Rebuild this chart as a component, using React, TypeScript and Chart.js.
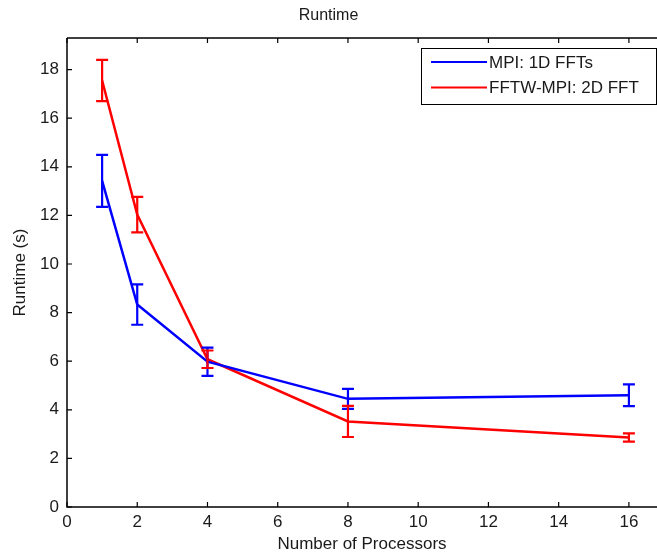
import React, { useEffect, useRef } from 'react';
import { Chart, registerables } from 'chart.js';

Chart.register(...registerables);

const processors = [1, 2, 4, 8, 16];
const mpiRuntime = [13.42, 8.33, 5.98, 4.45, 4.6];
const mpiError = [1.07, 0.83, 0.58, 0.41, 0.45];
const fftwRuntime = [17.55, 12.03, 6.08, 3.52, 2.86];
const fftwError = [0.85, 0.73, 0.36, 0.64, 0.17];
const seriesLabels = ['MPI: 1D FFTs', 'FFTW-MPI: 2D FFT'];
const seriesColors = ['#0000ff', '#ff0000'];
const chartTitle = 'Runtime';
const xTitle = 'Number of Processors';
const yTitle = 'Runtime (s)';

const FONT = "'Liberation Sans', Arial, sans-serif";
const TEXT = '#1a1a1a';

const errorBarPlugin = {
  id: 'errorBars',
  afterDatasetsDraw(chart: any) {
    const { ctx } = chart;
    const x = chart.scales.x;
    const y = chart.scales.y;
    chart.data.datasets.forEach((ds: any) => {
      const errs: number[] = ds.errors || [];
      ctx.save();
      ctx.strokeStyle = ds.borderColor;
      ctx.lineWidth = 2.2;
      ds.data.forEach((pt: any, j: number) => {
        const px = x.getPixelForValue(pt.x);
        const top = y.getPixelForValue(pt.y + errs[j]);
        const bot = y.getPixelForValue(pt.y - errs[j]);
        ctx.beginPath();
        ctx.moveTo(px, top);
        ctx.lineTo(px, bot);
        ctx.moveTo(px - 6, top);
        ctx.lineTo(px + 6, top);
        ctx.moveTo(px - 6, bot);
        ctx.lineTo(px + 6, bot);
        ctx.stroke();
      });
      ctx.restore();
    });
  },
};

const boxPlugin = {
  id: 'matlabBox',
  afterDraw(chart: any) {
    const { ctx, chartArea } = chart;
    const { left, right, top, bottom } = chartArea;
    const x = chart.scales.x;
    const y = chart.scales.y;
    ctx.save();
    ctx.strokeStyle = '#000';
    ctx.lineWidth = 1.5;
    ctx.beginPath();
    ctx.moveTo(left, top);
    ctx.lineTo(right, top);
    ctx.moveTo(left, top);
    ctx.lineTo(left, bottom);
    ctx.lineTo(right, bottom);
    ctx.stroke();
    ctx.lineWidth = 1.2;
    ctx.beginPath();
    x.ticks.forEach((t: any) => {
      const px = x.getPixelForValue(t.value);
      ctx.moveTo(px, bottom);
      ctx.lineTo(px, bottom - 5);
      ctx.moveTo(px, top);
      ctx.lineTo(px, top + 5);
    });
    y.ticks.forEach((t: any) => {
      const py = y.getPixelForValue(t.value);
      ctx.moveTo(left, py);
      ctx.lineTo(left + 5, py);
    });
    ctx.stroke();

    // legend
    const lx = 421, ly = 48, lw = 235, lh = 56;
    ctx.fillStyle = '#fff';
    ctx.fillRect(lx, ly, lw, lh);
    ctx.strokeStyle = '#000';
    ctx.lineWidth = 1;
    ctx.strokeRect(lx + 0.5, ly + 0.5, lw, lh);
    chart.data.datasets.forEach((ds: any, i: number) => {
      const rowY = 62 + i * 25.5;
      ctx.strokeStyle = ds.borderColor;
      ctx.lineWidth = 2.2;
      ctx.beginPath();
      ctx.moveTo(431, rowY);
      ctx.lineTo(487, rowY);
      ctx.stroke();
      ctx.fillStyle = TEXT;
      ctx.font = `17px ${FONT}`;
      ctx.textBaseline = 'middle';
      ctx.textAlign = 'left';
      ctx.fillText(ds.label, 489, rowY + 1);
    });
    ctx.restore();
  },
};

export default function App() {
  const ref = useRef<HTMLCanvasElement>(null);
  useEffect(() => {
    if (!ref.current) return;
    const chart = new Chart(ref.current, {
      type: 'line',
      data: {
        datasets: [
          {
            label: seriesLabels[0],
            data: processors.map((p, i) => ({ x: p, y: mpiRuntime[i] })),
            borderColor: seriesColors[0],
            backgroundColor: seriesColors[0],
            borderWidth: 2.5,
            pointRadius: 0,
            tension: 0,
            fill: false,
            errors: mpiError,
          } as any,
          {
            label: seriesLabels[1],
            data: processors.map((p, i) => ({ x: p, y: fftwRuntime[i] })),
            borderColor: seriesColors[1],
            backgroundColor: seriesColors[1],
            borderWidth: 2.5,
            pointRadius: 0,
            tension: 0,
            fill: false,
            errors: fftwError,
          } as any,
        ],
      },
      options: {
        responsive: false,
        animation: false,
        devicePixelRatio: 1,
        layout: { padding: 0 },
        plugins: {
          legend: { display: false },
          tooltip: { enabled: false },
          title: {
            display: true,
            text: chartTitle,
            color: TEXT,
            font: { family: FONT, size: 16, weight: 'normal' },
            padding: { top: 6, bottom: 12.8 },
          },
        },
        scales: {
          x: {
            type: 'linear',
            min: 0,
            max: 16.8,
            afterFit(s: any) {
              s.height = 51;
            },
            grid: { display: false, drawTicks: false },
            border: { display: false },
            ticks: {
              stepSize: 2,
              includeBounds: false,
              maxRotation: 0,
              autoSkip: false,
              padding: 5,
              color: TEXT,
              font: { family: FONT, size: 17 },
            },
            title: {
              display: true,
              text: xTitle,
              color: TEXT,
              font: { family: FONT, size: 17 },
              padding: { top: 3, bottom: 3 },
            },
          },
          y: {
            type: 'linear',
            min: 0,
            max: 19.3,
            afterFit(s: any) {
              s.width = 67;
            },
            grid: { display: false, drawTicks: false },
            border: { display: false },
            ticks: {
              stepSize: 2,
              includeBounds: false,
              autoSkip: false,
              padding: 8,
              color: TEXT,
              font: { family: FONT, size: 17 },
            },
            title: {
              display: true,
              text: yTitle,
              color: TEXT,
              font: { family: FONT, size: 17 },
              padding: { top: 10, bottom: 0 },
            },
          },
        },
      } as any,
      plugins: [errorBarPlugin, boxPlugin],
    });
    return () => chart.destroy();
  }, []);
  return (
    <div style={{ position: 'absolute', left: 0, top: 0, width: 657, height: 558, background: '#fff' }}>
      <canvas ref={ref} width={657} height={558} />
    </div>
  );
}
